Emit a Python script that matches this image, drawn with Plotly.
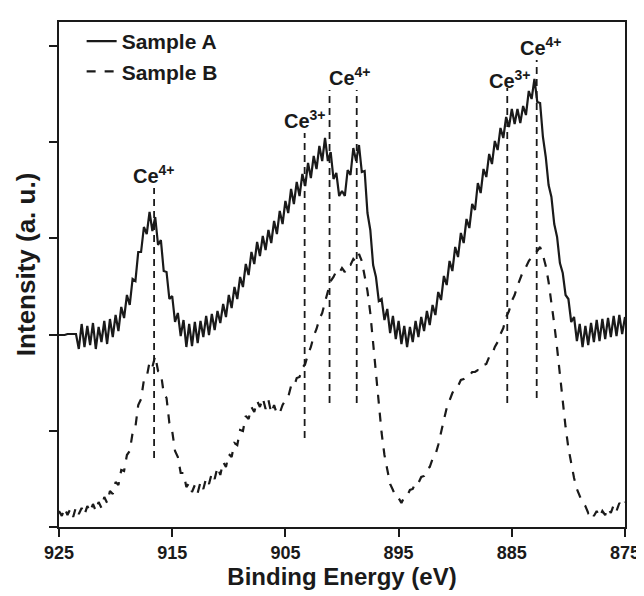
import numpy as np
import plotly.graph_objects as go

# Energia di legame, passo 0.25 eV da 925 a 875
energia = np.linspace(925, 875, 201)

# Campione A (linea continua) - intensità a.u., righe da 1 eV
campione_a = [
    192, 192, 192, 193,
    193, 193, 193, 178,
    203, 180, 201, 182,
    204, 178, 200, 185,
    206, 183, 208, 190,
    212, 196, 220, 209,
    232, 222, 248, 246,
    275, 275, 300, 293,
    315, 296, 310, 282,
    287, 256, 255, 228,
    231, 205, 214, 191,
    207, 180, 203, 181,
    205, 184, 206, 190,
    211, 192, 213, 197,
    216, 204, 223, 210,
    232, 219, 240, 228,
    250, 240, 263, 252,
    275, 263, 285, 271,
    291, 277, 297, 284,
    306, 293, 316, 303,
    326, 314, 338, 323,
    345, 331, 353, 341,
    364, 349, 371, 358,
    381, 366, 389, 366,
    375, 348, 354, 331,
    336, 331, 357, 352,
    379, 366, 382, 355,
    356, 314, 297, 262,
    250, 226, 228, 207,
    218, 194, 211, 188,
    206, 183, 201, 180,
    200, 185, 206, 190,
    210, 196, 216, 202,
    222, 212, 235, 227,
    251, 242, 266, 256,
    280, 270, 294, 284,
    308, 299, 323, 317,
    344, 334, 358, 350,
    373, 363, 386, 377,
    399, 389, 410, 400,
    418, 403, 418, 404,
    421, 412, 436, 428,
    448, 425, 424, 390,
    370, 342, 330, 303,
    290, 264, 254, 232,
    228, 205, 210, 186,
    203, 180, 201, 182,
    204, 185, 207, 186,
    208, 188, 209, 190,
    211, 191, 212, 193,
    210,
]

# Campione B (linea tratteggiata)
campione_b = [
    16, 11, 19, 12,
    18, 10, 20, 13,
    19, 12, 21, 15,
    23, 16, 25, 19,
    30, 24, 36, 33,
    45, 42, 57, 56,
    72, 76, 94, 100,
    122, 128, 147, 150,
    165, 160, 171, 156,
    154, 134, 129, 104,
    96, 76, 70, 54,
    54, 40, 44, 35,
    42, 34, 45, 38,
    49, 43, 54, 48,
    60, 52, 65, 60,
    73, 70, 84, 82,
    97, 96, 111, 108,
    120, 115, 126, 120,
    129, 118, 127, 114,
    122, 113, 114, 122,
    127, 130, 141, 140,
    149, 150, 159, 163,
    173, 180, 191, 198,
    208, 214, 225, 235,
    246, 250, 256, 254,
    259, 255, 262, 262,
    268, 265, 273, 266,
    250, 236, 214, 185,
    154, 122, 94, 72,
    57, 43, 37, 30,
    29, 24, 30, 31,
    37, 38, 45, 44,
    50, 51, 58, 60,
    68, 72, 82, 93,
    107, 119, 127, 134,
    139, 141, 147, 148,
    151, 151, 155, 155,
    157, 157, 162, 163,
    170, 172, 180, 185,
    193, 199, 210, 216,
    226, 232, 241, 249,
    256, 260, 266, 270,
    274, 276, 280, 272,
    261, 245, 226, 203,
    179, 151, 124, 100,
    79, 62, 49, 38,
    31, 24, 21, 14,
    17, 11, 16, 10,
    16, 12, 19, 14,
    22, 16, 24, 20,
    25,
]

# Linee di riferimento (posizione, estremi) e etichette degli stati di ossidazione
rif_energia = [916.6, 903.3, 901.1, 898.7, 885.4, 882.8]
rif_alto = [339, 394, 437, 437, 439, 467]
rif_basso = [69, 89, 124, 124, 124, 129]

etichette = ["Ce<sup>4+</sup>", "Ce<sup>3+</sup>", "Ce<sup>4+</sup>", "Ce<sup>3+</sup>", "Ce<sup>4+</sup>"]
etichette_x = [916.6, 903.3, 899.3, 885.2, 882.4]
etichette_y = [338, 393, 436, 433, 466]

nero = "#1a1a1a"

fig = go.Figure()
fig.add_trace(go.Scatter(x=energia, y=campione_a, mode="lines", name="<b>Sample A</b>",
                         line=dict(color=nero, width=2.2)))
fig.add_trace(go.Scatter(x=energia, y=campione_b, mode="lines", name="<b>Sample B</b>",
                         line=dict(color=nero, width=2.2, dash="dash")))

for e, a, b in zip(rif_energia, rif_alto, rif_basso):
    fig.add_trace(go.Scatter(x=[e, e], y=[b, a], mode="lines", showlegend=False,
                             line=dict(color=nero, width=1.8, dash="7px,5px")))

for t, x, y in zip(etichette, etichette_x, etichette_y):
    fig.add_annotation(x=x, y=y, text="<b>" + t + "</b>", showarrow=False,
                       yanchor="bottom", xanchor="center",
                       font=dict(size=20, color=nero, family="Liberation Sans"))

# Titolo asse y come annotazione, un po' sopra il centro come nell'originale
fig.add_annotation(xref="paper", yref="paper", x=-0.057, y=0.52, textangle=-90,
                   text="<b>Intensity (a. u.)</b>", showarrow=False,
                   xanchor="center", yanchor="middle",
                   font=dict(size=26, color=nero, family="Liberation Sans"))

fig.update_layout(
    width=644, height=596,
    margin=dict(l=51, r=19, t=14, b=77),
    plot_bgcolor="white", paper_bgcolor="white",
    font=dict(family="Liberation Sans", color=nero),
    legend=dict(x=0.04, y=1.002, xanchor="left", yanchor="top",
                font=dict(size=21, family="Liberation Sans"),
                bgcolor="rgba(0,0,0,0)", tracegroupgap=0),
    showlegend=True,
)
fig.update_xaxes(range=[925, 875], tickvals=[925, 915, 905, 895, 885, 875],
                 ticks="outside", ticklen=8, tickwidth=2, tickcolor=nero,
                 showline=True, linewidth=2, linecolor=nero, mirror=True,
                 showgrid=False, zeroline=False,
                 tickfont=dict(size=18, weight="bold"),
                 title=dict(text="<b>Binding Energy (eV)</b>", font=dict(size=24), standoff=4))
fig.update_yaxes(range=[0, 505], tickvals=[0, 96.2, 192.4, 288.6, 384.8, 481],
                 showticklabels=False,
                 ticks="outside", ticklen=8, tickwidth=2, tickcolor=nero,
                 showline=True, linewidth=2, linecolor=nero, mirror=True,
                 showgrid=False, zeroline=False)

fig.write_html("out.html")
